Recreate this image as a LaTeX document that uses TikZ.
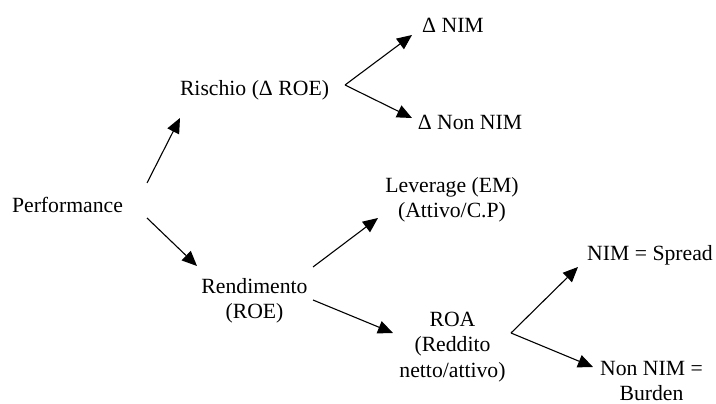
\documentclass[tikz,border=0pt]{standalone}
\usepackage{fontspec}
\setmainfont{Liberation Serif}
\usetikzlibrary{arrows.meta}
\begin{document}
\begin{tikzpicture}[x=1pt,y=-1pt,
  lbl/.style={inner sep=0pt,align=center,font=\fontsize{21.7}{25.5}\selectfont},
  arr/.style={line width=1.1pt,-{Triangle[length=15pt,width=13pt]}}]
\useasboundingbox (0,0) rectangle (716,404);
\node[lbl] (perf) at (67.5,205) {Performance};
\node[lbl] (risk) at (254.5,90) {Rischio (Δ ROE)};
\node[lbl] (dnim) at (453,25) {Δ NIM};
\node[lbl] (dnon) at (470,122) {Δ Non NIM};
\node[lbl] (lev) at (452,200) {Leverage (EM)\\(Attivo/C.P)};
\node[lbl] (rend) at (254.5,301) {Rendimento\\(ROE)};
\node[lbl] (roa) at (452.5,347) {ROA\\(Reddito\\netto/attivo)};
\node[lbl] (nim) at (650,255) {NIM = Spread};
\node[lbl] (bur) at (651.5,381) {Non NIM =\\Burden};
\coordinate (p1) at (147,183);
\coordinate (r1) at (180,118);
\coordinate (p2) at (147,218);
\coordinate (e1) at (197,266);
\coordinate (k0) at (345,85);
\coordinate (k1) at (412,35);
\coordinate (k2) at (412,118);
\coordinate (e2) at (313,267);
\coordinate (l1) at (378,218);
\coordinate (e3) at (313,300);
\coordinate (o1) at (393,333);
\coordinate (a0) at (511,333);
\coordinate (n1) at (578,267);
\coordinate (n2) at (593,367);
\draw[arr] (p1) -- (r1);
\draw[arr] (p2) -- (e1);
\draw[arr] (k0) -- (k1);
\draw[arr] (k0) -- (k2);
\draw[arr] (e2) -- (l1);
\draw[arr] (e3) -- (o1);
\draw[arr] (a0) -- (n1);
\draw[arr] (a0) -- (n2);
\end{tikzpicture}
\end{document}
